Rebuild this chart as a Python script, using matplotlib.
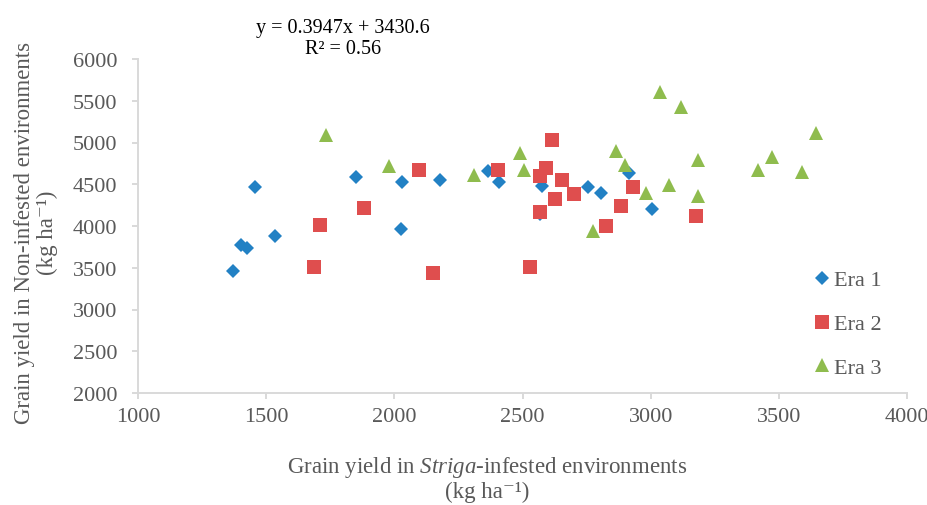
import matplotlib
matplotlib.use("Agg")
import matplotlib.pyplot as plt

plt.rcParams['font.family'] = ['Liberation Serif', 'DejaVu Serif']
plt.rcParams['mathtext.fontset'] = 'custom'
plt.rcParams['mathtext.rm'] = 'Liberation Serif'
plt.rcParams['mathtext.it'] = 'Liberation Serif:italic'

# Grain yield (kg/ha): x = Striga-infested, y = non-infested
era1_x = [1370, 1400, 1425, 1455, 1535, 1850, 2030, 2025, 2180, 2365, 2410, 2575, 2570, 2755, 2805, 2915, 3005]
era1_y = [3465, 3775, 3735, 4470, 3875, 4590, 4530, 3965, 4545, 4655, 4530, 4475, 4140, 4470, 4390, 4635, 4205]

era2_x = [1685, 1710, 1880, 2095, 2150, 2405, 2615, 2590, 2570, 2655, 2700, 2625, 2570, 2530, 2825, 2885, 2930, 3175]
era2_y = [3505, 4015, 4220, 4675, 3435, 4665, 5025, 4700, 4600, 4550, 4385, 4320, 4165, 3505, 4005, 4245, 4465, 4120]

era3_x = [1735, 1980, 2310, 2490, 2505, 2775, 3035, 3120, 2865, 2900, 3185, 3070, 2980, 3185, 3420, 3475, 3590, 3645]
era3_y = [5090, 4720, 4615, 4870, 4665, 3945, 5600, 5425, 4895, 4725, 4785, 4490, 4390, 4355, 4665, 4830, 4645, 5115]

x_ticks = [1000, 1500, 2000, 2500, 3000, 3500, 4000]
y_ticks = [2000, 2500, 3000, 3500, 4000, 4500, 5000, 5500, 6000]

gray = '#595959'
axis_gray = '#d9d9d9'
unit = '(kg ha\u207b\u00b9)'

fig = plt.figure(figsize=(9.28, 5.06), dpi=100)
ax = fig.add_axes([138 / 928, 1 - 394 / 506, (907 - 138) / 928, (394 - 60) / 506])

ax.plot(era1_x, era1_y, linestyle='none', marker='D', ms=6.8, color='#2281c4', mew=0, label='Era 1')
ax.plot(era2_x, era2_y, linestyle='none', marker='s', ms=9.4, color='#df4e4e', mew=0, label='Era 2')
ax.plot(era3_x, era3_y, linestyle='none', marker='^', ms=9.6, color='#8fbc4e', mew=0, label='Era 3')

ax.set_xlim(1000, 4000)
ax.set_ylim(2000, 6000)
ax.set_xticks(x_ticks)
ax.set_yticks(y_ticks)

for side in ['top', 'right']:
    ax.spines[side].set_visible(False)
for side in ['left', 'bottom']:
    ax.spines[side].set_color(axis_gray)
    ax.spines[side].set_linewidth(1.4)

ax.tick_params(axis='both', colors=axis_gray, labelcolor=gray, labelsize=16,
               length=4, width=1.4, direction='out')
ax.tick_params(axis='y', pad=11)
ax.tick_params(axis='x', pad=6)

# axis titles
fig.text(36 / 928, 1 - 233 / 506,
         'Grain yield in Non-infested environments\n' + unit,
         rotation=90, ha='center', va='center', multialignment='center',
         fontsize=16.5, color=gray, linespacing=1.15)
fig.text(487 / 928, 1 - 479 / 506,
         'Grain yield in $\\it{Striga}$-infested environments\n' + unit,
         ha='center', va='center', multialignment='center',
         fontsize=16.5, color=gray, linespacing=1.15)

# regression equation
fig.text(343 / 928, 1 - 39 / 506, 'y = 0.3947x + 3430.6\nR\u00b2 = 0.56',
         ha='center', va='center', multialignment='center',
         fontsize=14.5, color='black', linespacing=1.1)

leg = ax.legend(loc='center left', bbox_to_anchor=(815 / 928, 1 - 325 / 506),
                bbox_transform=fig.transFigure, frameon=False, fontsize=16,
                borderpad=0, borderaxespad=0, handlelength=0.6, handletextpad=0.25,
                labelspacing=1.05, numpoints=1)
for t in leg.get_texts():
    t.set_color(gray)

fig.savefig('out.png', dpi=100)
